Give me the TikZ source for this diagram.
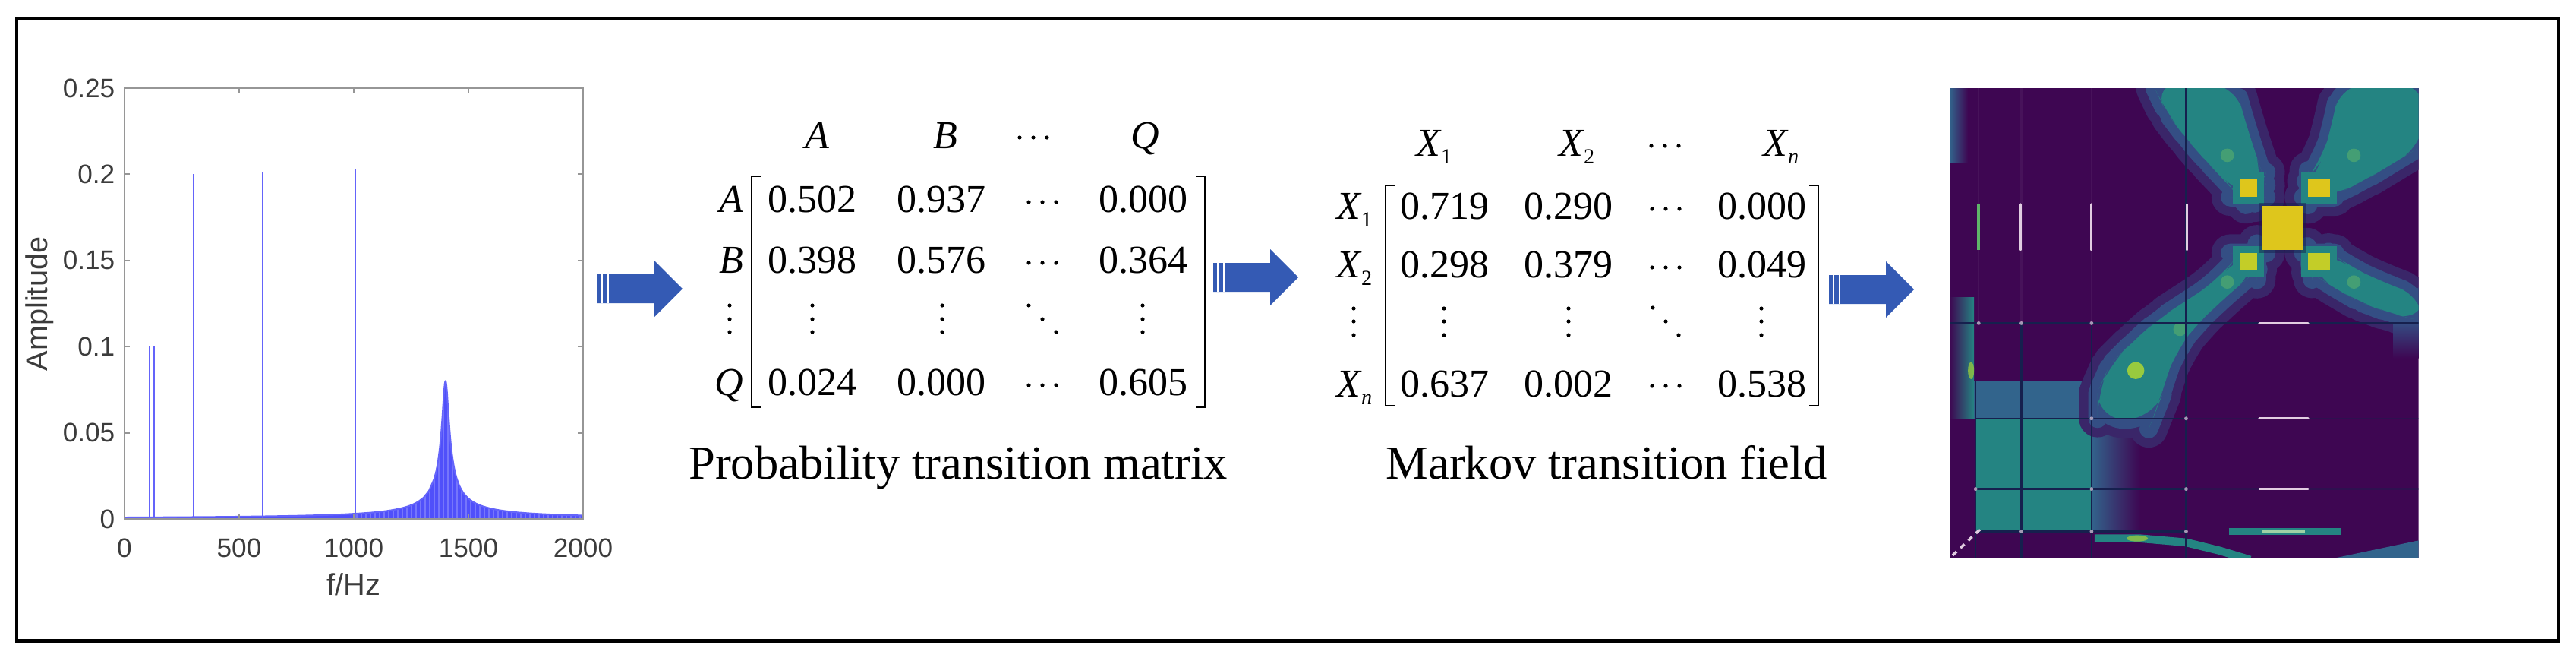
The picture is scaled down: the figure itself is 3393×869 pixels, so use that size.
\documentclass[tikz,border=0pt]{standalone}
\usepackage{fontspec}
\setmainfont{Liberation Serif}
\newfontfamily\plotfont{Liberation Sans}
\definecolor{arrowblue}{RGB}{52,90,180}
\definecolor{axisgray}{RGB}{150,150,150}
\definecolor{ticktext}{RGB}{60,60,60}
\definecolor{specfill}{RGB}{80,80,250}
\definecolor{specline}{RGB}{100,100,250}
\definecolor{hmbg}{RGB}{62,6,82}
\definecolor{hmteal}{RGB}{36,132,130}
\definecolor{hmblue}{RGB}{50,100,140}
\definecolor{hmhalo}{RGB}{52,78,132}
\definecolor{hmyellow}{RGB}{222,198,28}
\definecolor{hmyg}{RGB}{195,205,40}
\definecolor{hmgreen}{RGB}{95,180,105}
\definecolor{hmbright}{RGB}{165,210,55}
\definecolor{hmline}{RGB}{22,32,78}
\definecolor{hmwhite}{RGB}{225,205,225}
\newcommand\mfont{\fontsize{14.8}{17}\selectfont}
\newcommand\cfont{\fontsize{17.8}{21}\selectfont}
\newcommand\Xsub[1]{\textit{X}\kern-0.3pt\raisebox{-3.1pt}{\fontsize{8}{8}\selectfont #1}}
\newcommand\stripearrow[2]{%
  \fill[arrowblue] (#1,{#2-19}) -- ({#1+75},{#2-19}) -- ({#1+75},{#2-37}) -- ({#1+112},#2)
    -- ({#1+75},{#2+37}) -- ({#1+75},{#2+19}) -- (#1,{#2+19}) -- cycle;
  \draw[white, line width=0.5pt] ({#1+6},{#2-19}) -- ({#1+6},{#2+19});
  \draw[white, line width=0.5pt] ({#1+14},{#2-19}) -- ({#1+14},{#2+19});}
\tikzset{
  axisline/.style={draw=axisgray, line width=0.55pt},
  ticklab/.style={font=\plotfont\fontsize{10}{12}\selectfont, text=ticktext, inner sep=0pt},
  axlab/.style={font=\plotfont\fontsize{11.3}{13}\selectfont, text=ticktext, inner sep=0pt},
  mval/.style={font=\mfont, anchor=base, inner sep=0pt},
  mlab/.style={font=\mfont, anchor=base east, inner sep=0pt},
  caption/.style={font=\cfont, anchor=base, inner sep=0pt},
  bracket/.style={line width=0.65pt},
  arm/.style={fill=hmteal, rounded corners=10pt,
    preaction={draw=hmhalo!45!hmbg, line width=14pt, line join=round},
    preaction={draw=hmhalo, line width=7pt, line join=round}},
  gridl/.style={draw=hmline, line width=0.7pt},
  whitemark/.style={draw=hmwhite, line width=0.8pt, line cap=round},
}
\begin{document}
\begin{tikzpicture}[x=0.01cm, y=-0.01cm]
\useasboundingbox (0,0) rectangle (3393,869);
\fill[white] (0,0) rectangle (3393,869);
\draw[line width=1.15pt] (22,24) rectangle (3369.5,843.5);

% ---------------- spectrum plot ----------------
\begin{scope}
  \clip (164,116) rectangle (768,684);
  \path[fill=specfill] (164,683)
    -- plot[domain=0:13.5, samples=60] ({164+30.2*\x}, {683-27.2/sqrt((\x-14)^2+0.0225)})
    -- plot[domain=13.5:14.5, samples=201] ({164+30.2*\x}, {683-27.2/sqrt((\x-14)^2+0.0225)})
    -- plot[domain=14.5:20, samples=60] ({164+30.2*\x}, {683-27.2/sqrt((\x-14)^2+0.0225)})
    -- (768,683) -- cycle;
  \foreach \s in {470,476,...,766} \draw[white, opacity=0.22, line width=0.4pt] (\s,470) -- (\s,683);
  \draw[specline, line width=0.6pt] plot[domain=0:13.5, samples=60] ({164+30.2*\x}, {683-27.2/sqrt((\x-14)^2+0.0225)})
    -- plot[domain=13.5:14.5, samples=201] ({164+30.2*\x}, {683-27.2/sqrt((\x-14)^2+0.0225)})
    -- plot[domain=14.5:20, samples=60] ({164+30.2*\x}, {683-27.2/sqrt((\x-14)^2+0.0225)});
  \foreach \f/\a in {109/0.1, 129/0.1, 301/0.2, 603/0.201, 1007/0.203}
    \draw[specline, line width=0.55pt] ({164+0.302*\f},683) -- ({164+0.302*\f},{683-2268*\a});
\end{scope}
\draw[axisline] (164,116) rectangle (768,683);
\foreach \X in {164,315,466,617,768} {
  \draw[axisline] (\X,683) -- (\X,676);
  \draw[axisline] (\X,116) -- (\X,123);
}
\foreach \Y in {683,569.6,456.2,342.8,229.4,116} {
  \draw[axisline] (164,\Y) -- (171,\Y);
  \draw[axisline] (768,\Y) -- (761,\Y);
}
\foreach \X/\t [count=\i] in {164/0,315/500,466/1000,617/1500,768/2000}
  \node[ticklab] (xt\i) at (\X,721) {\t};
\foreach \Y/\t [count=\i] in {683/0,569.6/0.05,456.2/0.1,342.8/0.15,229.4/0.2,116/0.25}
  \node[ticklab, anchor=east] (yt\i) at (152,\Y) {\t};
\node[axlab, rotate=90] (ylab) at (52,400) {Amplitude};
\node[axlab, anchor=base] (xlab) at (466,783) {f/Hz};

% ---------------- arrows ----------------
\stripearrow{787}{380}
\stripearrow{1598}{365}
\stripearrow{2409}{381}

% ---------------- probability transition matrix ----------------
\node[mval] (pA) at (1076,195) {\textit{A}};
\node[mval] (pB) at (1245,195) {\textit{B}};
\node[mval] (pQ) at (1508,195) {\textit{Q}};
\node[mlab] (pRA) at (980,279) {\textit{A}};
\node[mlab] (pRB) at (980,359) {\textit{B}};
\node[mlab] (pRQ) at (980,520) {\textit{Q}};
\foreach \y/\a/\b/\c [count=\r] in {279/0.502/0.937/0.000, 359/0.398/0.576/0.364, 520/0.024/0.000/0.605} {
  \node[mval] (p\r a) at (1070,\y) {\a};
  \node[mval] (p\r b) at (1240,\y) {\b};
  \node[mval] (p\r c) at (1506,\y) {\c};
}
\foreach \x in {1343,1361,1379} \fill (\x,181) circle[radius=2.6];
\foreach \x in {1355,1373,1391} \foreach \y in {266,346,507} \fill (\x,\y) circle[radius=2.6];
\foreach \x in {961,1070,1241,1505} \foreach \y in {402,420,437} \fill (\x,\y) circle[radius=2.6];
\fill (1355,402) circle[radius=2.6] (1373,420) circle[radius=2.6] (1391,437) circle[radius=2.6];
\draw[bracket] (1002,232) -- (990,232) -- (990,536) -- (1002,536);
\draw[bracket] (1575,232) -- (1587,232) -- (1587,536) -- (1575,536);
\node[caption] (cap1) at (1262,630) {Probability transition matrix};

% ---------------- Markov transition field ----------------
\node[mval] (mX1) at (1889,205) {\Xsub{1}};
\node[mval] (mX2) at (2077,205) {\Xsub{2}};
\node[mval] (mXn) at (2346,205) {\Xsub{\textit{n}}};
\node[mlab] (mR1) at (1808,288) {\Xsub{1}};
\node[mlab] (mR2) at (1808,365) {\Xsub{2}};
\node[mlab] (mRn) at (1808,522) {\Xsub{\textit{n}}};
\foreach \y/\a/\b/\c [count=\r] in {288/0.719/0.290/0.000, 365/0.298/0.379/0.049, 522/0.637/0.002/0.538} {
  \node[mval] (m\r a) at (1903,\y) {\a};
  \node[mval] (m\r b) at (2066,\y) {\b};
  \node[mval] (m\r c) at (2321,\y) {\c};
}
\foreach \x in {2175,2193,2211} \fill (\x,192) circle[radius=2.6];
\foreach \x in {2176,2194,2212} \foreach \y in {275,352,508} \fill (\x,\y) circle[radius=2.6];
\foreach \x in {1783,1902,2066,2320} \foreach \y in {406,423,441} \fill (\x,\y) circle[radius=2.6];
\fill (2177,405) circle[radius=2.6] (2194,423) circle[radius=2.6] (2211,441) circle[radius=2.6];
\draw[bracket] (1837,244) -- (1825,244) -- (1825,534) -- (1837,534);
\draw[bracket] (2383,244) -- (2395,244) -- (2395,534) -- (2383,534);
\node[caption] (cap2) at (2116,630) {Markov transition field};

% ---------------- MTF image ----------------
\begin{scope}[shift={(2562,110)}, scale=0.4018]
  \clip (15,15) rectangle (1552,1552);
  \fill[hmbg] (15,15) rectangle (1552,1552);
  \foreach \u in {110,250,480} \draw[white, opacity=0.05, line width=0.6pt] (\u,15) -- (\u,785);
  \shade[left color=hmblue, right color=hmbg] (15,15) rectangle (75,260);
  \shade[left color=hmbg, right color=hmteal] (15,700) rectangle (95,1100);
  \fill[hmblue] (95,975) rectangle (490,1100);
  \shade[left color=hmblue, right color=hmbg] (478,1097) rectangle (640,1465);
  \fill[hmteal] (100,1097) rectangle (480,1465);
  % arms of the X
  \path[arm] (680,0) -- (950,0) -- (985,130) -- (1025,250) -- (1045,310) -- (1022,372) -- (965,372)
    -- (930,330) -- (865,265) -- (790,180) -- (725,95) -- cycle;
  \path[arm] (1295,0) -- (1570,0) -- (1570,200) -- (1470,260) -- (1380,315) -- (1262,372) -- (1190,372)
    -- (1190,310) -- (1235,250) -- (1265,150) -- cycle;
  \path[arm] (1190,555) -- (1262,555) -- (1330,600) -- (1420,645) -- (1570,700) -- (1570,780)
    -- (1450,750) -- (1350,712) -- (1270,665) -- (1200,620) -- cycle;
  \path[arm] (965,555) -- (1022,555) -- (1022,612) -- (960,665) -- (880,735) -- (815,800) -- (760,870)
    -- (725,960) -- (700,1050) -- (680,1100) -- (500,1100) -- (500,1010) -- (540,920) -- (610,850)
    -- (700,770) -- (800,705) -- (900,640) -- cycle;
  \shade[top color=hmhalo, bottom color=hmbg] (1470,780) rectangle (1552,900);
  % halos of the small squares
  \fill[hmteal] (942,288) rectangle (1045,395);
  \fill[hmteal] (1167,288) rectangle (1285,395);
  \fill[hmteal] (942,532) rectangle (1045,633);
  \fill[hmteal] (1167,532) rectangle (1285,633);
  % green spots
  \foreach \p in {(925,235),(1340,235),(925,650),(1340,650),(770,805)}
    \fill[hmgreen, opacity=0.55] \p circle[radius=22];
  \fill[hmbright, opacity=0.9] (625,940) circle[radius=28];
  \fill[hmbright, opacity=0.7] (85,940) ellipse[x radius=10, y radius=28];
  % yellow squares
  \fill[hmline, opacity=0.5] (1030,390) rectangle (1185,555);
  \fill[hmyellow] (1040,400) rectangle (1175,545);
  \fill[hmyellow] (965,310) rectangle (1022,372);
  \fill[hmyellow] (1190,310) rectangle (1262,372);
  \fill[hmyg] (965,555) rectangle (1022,610);
  \fill[hmyg] (1190,555) rectangle (1262,610);
  % bottom features
  \draw[hmteal, line width=3pt] (490,1490) -- (640,1490) -- (790,1503) -- (900,1530) -- (1000,1560);
  \fill[hmbright, opacity=0.7] (630,1490) ellipse[x radius=35, y radius=10];
  \draw[hmteal, line width=2.6pt] (930,1467) -- (1300,1467);
  \fill[hmblue] (1250,1560) -- (1560,1495) -- (1560,1560) -- cycle;
  % grid lines
  \draw[gridl] (790,15) -- (790,1552);
  \draw[gridl] (15,785) -- (1552,785);
  \draw[gridl] (100,1097) -- (790,1097);
  \draw[gridl, opacity=0.4] (790,1097) -- (1552,1097);
  \draw[gridl] (100,1328) -- (790,1328);
  \draw[gridl, opacity=0.4] (790,1328) -- (1552,1328);
  \draw[gridl] (100,1467) -- (790,1467);
  \draw[gridl] (250,785) -- (250,1552);
  \draw[gridl] (480,785) -- (480,1552);
  \draw[gridl] (100,975) -- (100,1552);
  % light marks
  \draw[whitemark] (248,395) -- (248,545);
  \draw[whitemark] (480,395) -- (480,545);
  \draw[whitemark] (792,395) -- (792,545);
  \draw[hmgreen, line width=1.2pt] (110,395) -- (110,545);
  \draw[whitemark] (1030,785) -- (1190,785);
  \draw[whitemark] (1030,1097) -- (1190,1097);
  \draw[whitemark] (1030,1328) -- (1190,1328);
  \draw[hmgreen!60!white, line width=1pt] (1040,1467) -- (1180,1467);
  \foreach \p in {(110,785),(250,785),(480,785),(790,1097),(480,1097),(100,1328),(480,1328),(790,1328),(250,1467),(480,1467),(790,1467)}
    \fill[hmwhite, opacity=0.7] \p circle[radius=6];
  \draw[hmwhite, line width=1pt, dash pattern=on 2pt off 2pt] (25,1545) -- (115,1460);
\end{scope}
\end{tikzpicture}
\end{document}
